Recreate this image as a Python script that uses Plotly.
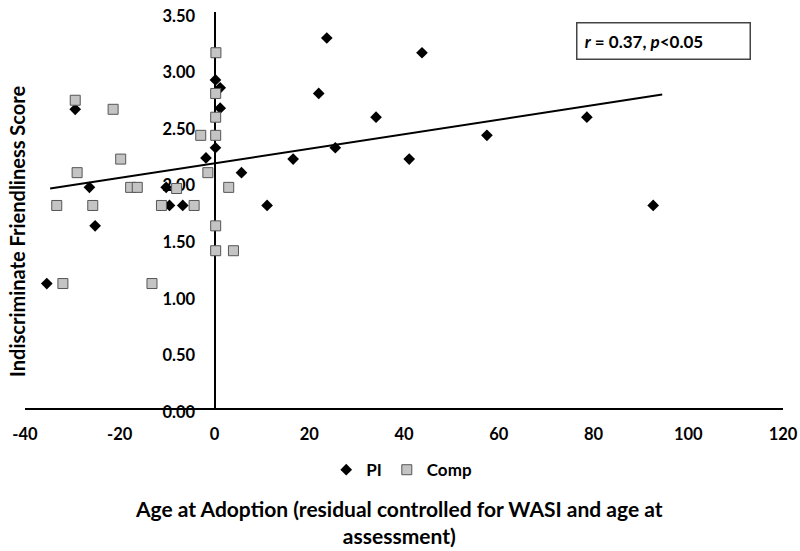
import plotly.graph_objects as go

# ---- data ----
pi_x = [0.2, 1.2, -29.4, 1.2, 0.2, -1.8, -26.4, -10.2, -9.5, -6.7, -25.2, -35.4,
        5.7, 11.1, 23.7, 43.8, 22.0, 34.1, 57.5, 25.5, 16.6, 41.1, 78.6, 92.6]
pi_y = [2.90, 2.83, 2.64, 2.65, 2.30, 2.21, 1.95, 1.95, 1.79, 1.79, 1.61, 1.10,
        2.08, 1.79, 3.27, 3.14, 2.78, 2.57, 2.41, 2.30, 2.20, 2.20, 2.57, 1.79]

comp_x = [0.3, -29.4, -21.4, 0.25, 0.25, -2.9, 0.25, -19.8, -29.0, -1.4, -17.7, -16.3,
          -8.0, 3.0, -33.3, -25.7, -11.2, -4.3, 0.25, 0.25, 4.0, -32.0, -13.2]
comp_y = [3.14, 2.72, 2.64, 2.78, 2.57, 2.41, 2.41, 2.20, 2.08, 2.08, 1.95, 1.95,
          1.94, 1.95, 1.79, 1.79, 1.79, 1.79, 1.61, 1.39, 1.39, 1.10, 1.10]

trend_x = [-34.7, 94.5]
trend_y = [1.94, 2.77]

x_ticks = [-40, -20, 0, 20, 40, 60, 80, 100, 120]
y_ticks = [0.0, 0.5, 1.0, 1.5, 2.0, 2.5, 3.0, 3.5]

FONT = "Lato"

fig = go.Figure()
fig.add_trace(go.Scatter(
    x=pi_x, y=pi_y, mode="markers", name="PI",
    marker=dict(symbol="diamond", size=9, color="black",
                line=dict(width=0))))
fig.add_trace(go.Scatter(
    x=comp_x, y=comp_y, mode="markers", name="Comp",
    marker=dict(symbol="square", size=10, color="#c4c4c4",
                line=dict(width=1, color="#555555"))))
fig.add_trace(go.Scatter(
    x=trend_x, y=trend_y, mode="lines", showlegend=False,
    line=dict(color="black", width=2), hoverinfo="skip"))

fig.update_layout(
    width=800, height=551,
    margin=dict(l=25, r=17, t=12, b=143, autoexpand=False),
    paper_bgcolor="white", plot_bgcolor="white",
    font=dict(family=FONT, size=16, color="black", weight="bold"),
    showlegend=True,
    legend=dict(orientation="h", x=0.497, y=-0.157, xanchor="center",
                yanchor="middle", font=dict(size=17, family=FONT, weight="bold"),
                itemwidth=30, bgcolor="rgba(0,0,0,0)"),
    xaxis=dict(range=[-40, 120], tickvals=x_ticks,
               ticktext=[str(v) for v in x_ticks],
               showgrid=False, zeroline=False, showline=True,
               linecolor="black", linewidth=2, ticks="",
               ticklabelstandoff=10, layer="below traces", automargin=False,
               ticklabeloverflow="allow",
               tickfont=dict(size=16.5, family=FONT, weight="bold")),
    yaxis=dict(range=[0, 3.5], tickvals=y_ticks,
               ticktext=[f"{v:.2f}" for v in y_ticks],
               anchor="free", position=0.25,
               showgrid=False, zeroline=False, showline=True,
               linecolor="black", linewidth=2, ticks="",
               ticklabelstandoff=15, ticklabelshift=4,
               layer="below traces", automargin=False,
               ticklabeloverflow="allow",
               tickfont=dict(size=16.5, family=FONT, weight="bold")),
)

fig.add_annotation(
    text="Indiscriminate Friendliness Score", textangle=-90,
    xref="paper", yref="paper", x=-0.0106, y=0.447,
    xanchor="center", yanchor="middle", showarrow=False,
    font=dict(size=20, family=FONT, weight="bold"))

fig.add_annotation(
    text="Age at Adoption (residual controlled for WASI and age at<br>assessment)",
    xref="paper", yref="paper", x=0.494, y=-0.289,
    xanchor="center", yanchor="middle", showarrow=False,
    font=dict(size=21, family=FONT, weight="bold"))

fig.add_annotation(
    text="\u00a0<i>r</i> = 0.37, <i>p</i>&lt;0.05",
    xref="paper", yref="paper", x=0.727, y=0.974,
    xanchor="left", yanchor="top", showarrow=False, align="left",
    width=166, height=29, borderpad=3,
    bordercolor="#444444", borderwidth=1.5, bgcolor="white",
    font=dict(size=17, family=FONT, weight="bold"))

# remove the browser's default 8px body margin so the figure fills the window
fig.write_html(
    "out.html",
    config={"displayModeBar": False},
    post_script="document.body.style.margin='0';document.body.style.overflow='hidden';")
